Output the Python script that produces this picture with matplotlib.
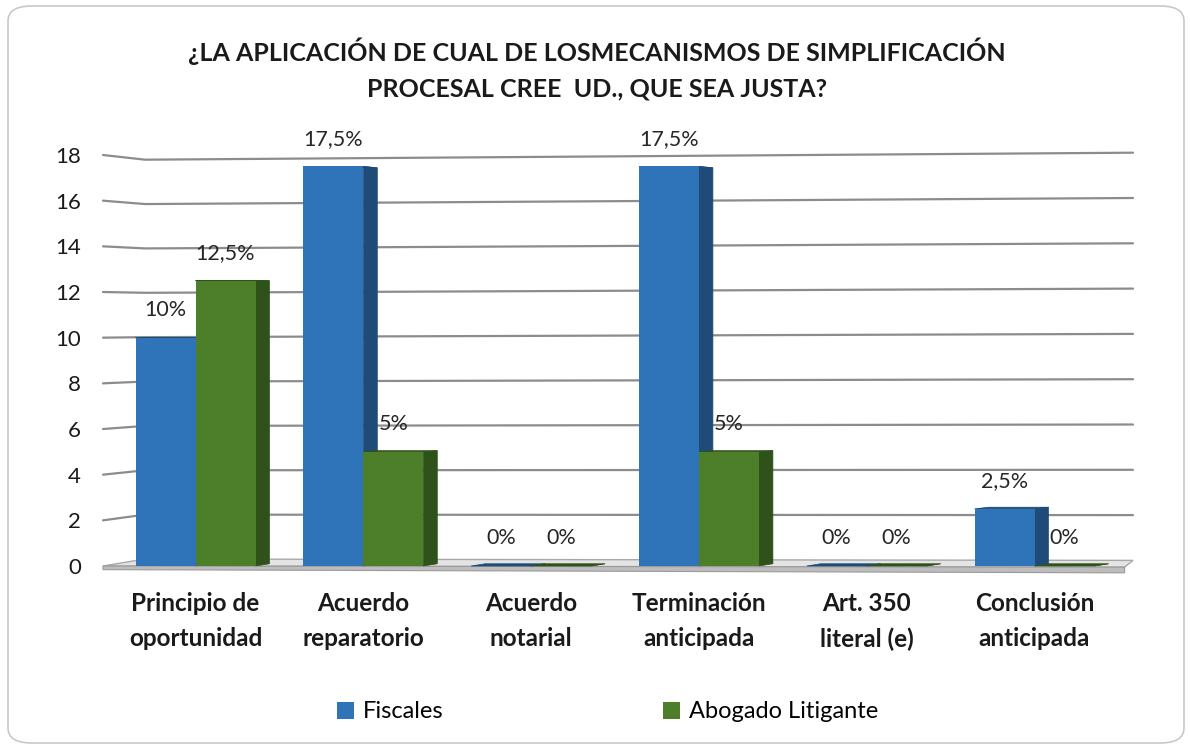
import numpy as np
import matplotlib
matplotlib.use("Agg")
import matplotlib.pyplot as plt
from matplotlib.patches import Polygon, Patch, FancyBboxPatch

plt.rcParams['font.family'] = ['Lato', 'DejaVu Sans']

# chart data
categories = ["Principio de\noportunidad", "Acuerdo\nreparatorio", "Acuerdo\nnotarial",
              "Terminación\nanticipada", "Art. 350\nliteral (e)", "Conclusión\nanticipada"]
fiscales = [10, 17.5, 0, 17.5, 0, 2.5]
abogados = [12.5, 5, 0, 5, 0, 0]
series_names = ["Fiscales", "Abogado Litigante"]
title = "¿LA APLICACIÓN DE CUAL DE LOSMECANISMOS DE SIMPLIFICACIÓN\nPROCESAL CREE  UD., QUE SEA JUSTA?"

front_colors = ["#2F74B8", "#4D7F2B"]
side_colors = ["#1F4B78", "#2E5219"]

W, H = 1190, 749
fig = plt.figure(figsize=(W / 100, H / 100), dpi=100)

# rounded outer frame (behind everything)
frame = FancyBboxPatch((8 / W, 6 / H), (W - 14) / W, (H - 12) / H,
                       boxstyle="round,pad=0,rounding_size=0.02",
                       transform=fig.transFigure, facecolor="white",
                       edgecolor="#c8c8c8", linewidth=1.2, zorder=-5)
fig.add_artist(frame)

# axes placed on the back wall
x0_px, x1_px, y0_px, y18_px = 145, 1133, 566, 155
ax = fig.add_axes([x0_px / W, (H - y0_px) / H, (x1_px - x0_px) / W, (y0_px - y18_px) / H])
ax.set_facecolor("none")
ax.set_zorder(2)
c0, step = 195.5, 167.8
ax.set_xlim((x0_px - c0) / step, (x1_px - c0) / step)
ax.set_ylim(0, 18)
for s in ax.spines.values():
    s.set_visible(False)

xl, xr = ax.get_xlim()
x_front = (103 - c0) / step
depth_b, depth_k = 0.306, 0.9716  # back wall is a bit shrunk (3D look)


def back(v):
    return depth_b + depth_k * v


ticks = np.arange(0, 19, 2)
ax.set_yticks(ticks)
ax.set_yticklabels([str(t) for t in ticks], fontsize=16, color="#1a1a1a")
ax.tick_params(axis="y", length=0, pad=46)

# gridlines: side wall + back wall with slight perspective
for t in ticks[1:]:
    yl = back(t)
    yr = yl + 0.0204 * (t - 3)
    ax.plot([x_front, xl, xr], [t, yl, yr], color="#8c8c8c", lw=1.6,
            clip_on=False, zorder=1, solid_capstyle="round")

# floor slab: top surface + thin front edge
x_fr = xr - 0.05
floor_top = Polygon([(x_front, 0), (xl, back(0)), (xr, back(0) - 0.06), (x_fr, -0.05)],
                    closed=True, facecolor="#e4e4e4", edgecolor="#a8a8a8", lw=1.0,
                    clip_on=False, zorder=1)
floor_edge = Polygon([(x_front, 0), (x_fr, -0.05), (x_fr, -0.3), (x_front, -0.16)],
                     closed=True, facecolor="#bdbdbd", edgecolor="#9a9a9a", lw=0.8,
                     clip_on=False, zorder=1)
ax.add_patch(floor_top)
ax.add_patch(floor_edge)

x = np.arange(len(categories))
bw = 60 / step
dx = 14 / step
frac = 0.32

for k, (vals, fc, sc) in enumerate(zip([fiscales, abogados], front_colors, side_colors)):
    lefts = x - bw + k * bw
    for left, h in zip(lefts, vals):
        right = left + bw
        hb = h + frac * (back(h) - h)
        top = Polygon([(left, h), (left + dx, hb), (right + dx, hb), (right, h)],
                      closed=True, facecolor=sc, edgecolor=sc, lw=0.5,
                      clip_on=False, zorder=2)
        side = Polygon([(right, 0), (right, h), (right + dx, hb), (right + dx, frac * back(0))],
                       closed=True, facecolor=sc, edgecolor=sc, lw=0.5,
                       clip_on=False, zorder=2)
        ax.add_patch(top)
        ax.add_patch(side)
    bars = ax.bar(lefts, vals, width=bw, align="edge", color=fc, zorder=3,
                  label=series_names[k])
    for b in bars:
        b.set_clip_on(False)
    for cx, h in zip(lefts + bw / 2, vals):
        lab = f"{h:g}".replace(".", ",") + "%"
        ax.annotate(lab, (cx, h), xytext=(0, 20), textcoords="offset points",
                    ha="center", va="center", fontsize=15.5, color="#262626", zorder=5)

ax.set_xticks(x)
ax.set_xticklabels(categories, fontsize=17.5, fontweight="bold", color="#1a1a1a",
                   linespacing=1.6)
ax.tick_params(axis="x", length=0, pad=19)

fig.text(597 / W, 1 - 69 / H, title, ha="center", va="center", fontsize=18,
         fontweight="bold", color="#1a1a1a", linespacing=1.7)

handles = [Patch(facecolor=front_colors[0]), Patch(facecolor=front_colors[1])]
fig.legend(handles, series_names, loc="center", bbox_to_anchor=(608 / W, 1 - 712 / H),
           ncol=2, frameon=False, fontsize=17, handlelength=0.7, handleheight=0.7,
           handletextpad=0.4, columnspacing=9.3)

fig.savefig("out.png", dpi=100)
